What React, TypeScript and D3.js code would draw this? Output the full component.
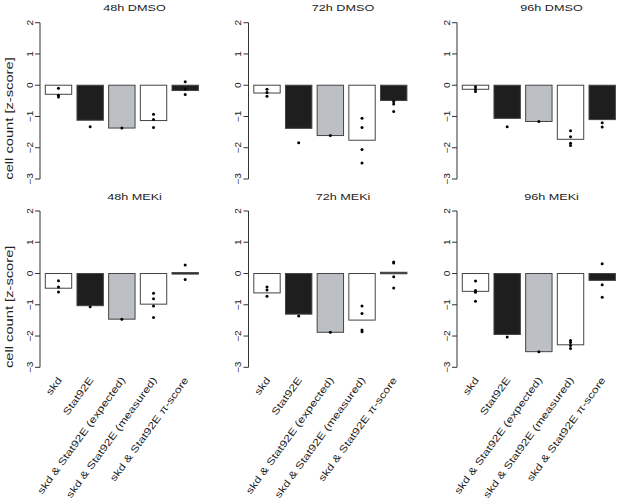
import * as d3 from "d3";

// categories & panels
const categories = [
  "skd",
  "Stat92E",
  "skd & Stat92E (expected)",
  "skd & Stat92E (measured)",
  "skd & Stat92E π-score",
];
const panelTitles = ["48h DMSO", "72h DMSO", "96h DMSO", "48h MEKi", "72h MEKi", "96h MEKi"];
const yTicks = [-3, -2, -1, 0, 1, 2];
const barFills = ["#ffffff", "#1e1e1e", "#bcbfc3", "#ffffff", "#1e1e1e"];

// bar heights (z-score) per panel
const means48DMSO = [-0.29, -1.12, -1.37, -1.13, -0.17];
const means72DMSO = [-0.25, -1.38, -1.61, -1.76, -0.49];
const means96DMSO = [-0.13, -1.06, -1.16, -1.73, -1.1];
const means48MEKi = [-0.47, -1.03, -1.46, -0.98, 0.03];
const means72MEKi = [-0.62, -1.3, -1.88, -1.49, 0.04];
const means96MEKi = [-0.57, -1.95, -2.5, -2.28, -0.22];

// replicate points per panel, per category
const points48DMSO = [[-0.1, -0.32, -0.38], [-1.33], [-1.37], [-0.93, -1.1, -1.35], [0.11, -0.12, -0.3]];
const points72DMSO = [[-0.13, -0.23, -0.35], [-1.84], [-1.61], [-1.06, -1.35, -2.06, -2.49], [-0.52, -0.6, -0.84]];
const points96DMSO = [[-0.05, -0.13, -0.2], [-1.33], [-1.16], [-1.46, -1.65, -1.86, -1.93], [-1.2, -1.34]];
const points48MEKi = [[-0.23, -0.43, -0.59], [-1.06], [-1.46], [-0.63, -0.81, -1.04, -1.41], [0.27, -0.19]];
const points72MEKi = [[-0.43, -0.53, -0.73], [-1.36], [-1.88], [-1.04, -1.28, -1.81, -1.86], [0.37, 0.34, -0.1, -0.46]];
const points96MEKi = [[-0.24, -0.54, -0.6, -0.89], [-2.03], [-2.5], [-2.14, -2.21, -2.3, -2.4], [0.31, -0.36, -0.76]];

const panelMeans = [means48DMSO, means72DMSO, means96DMSO, means48MEKi, means72MEKi, means96MEKi];
const panelPoints = [points48DMSO, points72DMSO, points96DMSO, points48MEKi, points72MEKi, points96MEKi];

const W = 617;
const H = 499;
const FONT = "'Liberation Sans', Arial, Helvetica, sans-serif";
const axisX = [40, 248.5, 457];
const rowTop = [22.7, 211];
const rowHeight = 156.3;
// the original text is drawn wide along its baseline
const STRETCH = 1.29;

function Panel({ idx }: { idx: number }) {
  const col = idx % 3;
  const row = Math.floor(idx / 3);
  const x0 = axisX[col];
  const y = d3.scaleLinear().domain([-3, 2]).range([rowTop[row] + rowHeight, rowTop[row]]);
  const x = d3
    .scaleBand<string>()
    .domain(categories)
    .range([x0 + 5.3, x0 + 158.4])
    .paddingInner(1 / 6)
    .paddingOuter(0);
  const means = panelMeans[idx];
  const pts = panelPoints[idx];
  const zero = y(0);

  return (
    <g>
      <text
        transform={`translate(${x0 + 94.5},${rowTop[row] - 11.5}) scale(${STRETCH},1)`}
        textAnchor="middle"
        fontSize={9.8}
        fill="#222"
      >
        {panelTitles[idx]}
      </text>

      {/* y axis */}
      <line x1={x0} x2={x0} y1={y(-3)} y2={y(2)} stroke="#333" strokeWidth={1} />
      {yTicks.map((t) => (
        <g key={t}>
          <line x1={x0 - 5} x2={x0} y1={y(t)} y2={y(t)} stroke="#333" strokeWidth={1} />
          <text
            transform={`translate(${x0 - 7.5},${y(t)}) rotate(-90) scale(1.15,1)`}
            textAnchor="middle"
            fontSize={8.8}
            fill="#222"
          >
            {t < 0 ? `\u2212${Math.abs(t)}` : String(t)}
          </text>
        </g>
      ))}

      {col === 0 && (
        <text
          transform={`translate(13.3,${rowTop[row] + 95.8}) rotate(-90) scale(${STRETCH},1)`}
          textAnchor="middle"
          fontSize={11.4}
          fill="#222"
        >
          cell count [z-score]
        </text>
      )}

      {/* bars */}
      {categories.map((c, i) => {
        const v = means[i];
        const top = Math.min(y(v), zero);
        const h = Math.max(Math.abs(y(v) - zero), 1.5);
        return (
          <rect
            key={c}
            x={x(c)}
            y={top}
            width={x.bandwidth()}
            height={h}
            fill={barFills[i]}
            stroke="#444"
            strokeWidth={1}
          />
        );
      })}

      {/* replicate points */}
      {categories.map((c, i) =>
        pts[i].map((p, j) => (
          <circle
            key={`${c}-${j}`}
            cx={(x(c) ?? 0) + x.bandwidth() / 2}
            cy={y(p)}
            r={1.5}
            fill="#000"
          />
        ))
      )}

      {/* x labels on bottom row */}
      {row === 1 &&
        categories.map((c) => {
          const cx = (x(c) ?? 0) + x.bandwidth() / 2 + 1;
          return (
            <text
              key={c}
              transform={`translate(${cx},378) rotate(-54) scale(${STRETCH},1)`}
              textAnchor="end"
              dy="0.35em"
              fontSize={9.7}
              fill="#222"
            >
              {c}
            </text>
          );
        })}
    </g>
  );
}

export default function App() {
  return (
    <svg
      width={W}
      height={H}
      style={{ position: "absolute", left: 0, top: 0, background: "#fff", fontFamily: FONT }}
    >
      {panelTitles.map((_, i) => (
        <Panel key={i} idx={i} />
      ))}
    </svg>
  );
}
